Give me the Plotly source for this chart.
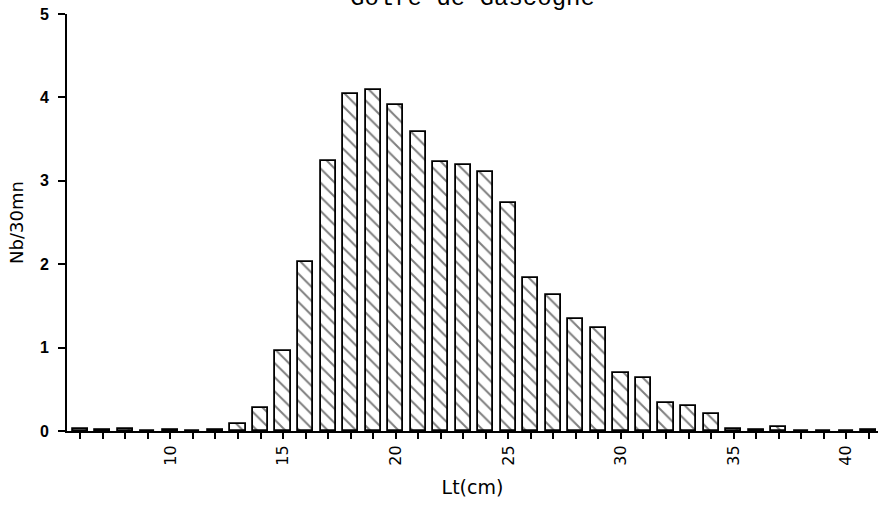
import plotly.graph_objects as go

# Data
lengths = list(range(6, 42))
counts = [0.03, 0.01, 0.02, 0.005, 0.015, 0.0, 0.01, 0.08, 0.28, 0.96,
          2.03, 3.24, 4.04, 4.09, 3.91, 3.58, 3.22, 3.19, 3.11, 2.73,
          1.84, 1.63, 1.34, 1.23, 0.69, 0.64, 0.33, 0.30, 0.20, 0.03,
          0.01, 0.05, 0.0, 0.005, 0.005, 0.01]
x_tick_vals = [10, 15, 20, 25, 30, 35, 40]
y_tick_vals = [0, 1, 2, 3, 4, 5]
title_text = "Golfe de Gascogne"
x_title = "Lt(cm)"
y_title = "Nb/30mn"

fig = go.Figure()
fig.add_trace(go.Bar(
    x=lengths, y=counts, width=0.67,
    marker=dict(color="white",
                line=dict(color="black", width=1.8),
                pattern=dict(shape="\\", fgcolor="black", bgcolor="white",
                             size=10, solidity=0.2)),
    showlegend=False,
))

fig.update_layout(
    width=879, height=509,
    margin=dict(l=67, r=1, t=14, b=78, autoexpand=False),
    paper_bgcolor="white", plot_bgcolor="white",
    font=dict(family="Liberation Sans, Arial, sans-serif", color="black"),
    bargap=0,
    annotations=[dict(text=title_text, xref="paper", yref="paper",
                      x=0.5, y=1.036, xanchor="center", yanchor="middle",
                      showarrow=False,
                      font=dict(family="Courier New, Liberation Mono, monospace",
                                size=24, color="black"))],
)
fig.update_xaxes(
    range=[5.41, 41.41],
    tickmode="array", tickvals=x_tick_vals,
    ticktext=[str(v) for v in x_tick_vals],
    tickangle=-90,
    ticks="outside", ticklen=6, tickwidth=1.5, tickcolor="black",
    minor=dict(dtick=1, tick0=0, ticks="outside", ticklen=6,
               tickwidth=1.5, tickcolor="black"),
    showline=True, linecolor="black", linewidth=1.8,
    showgrid=False, zeroline=False,
    tickfont=dict(size=16, family="DejaVu Sans, sans-serif"),
    title=dict(text=x_title, font=dict(size=19, family="DejaVu Sans, sans-serif"),
               standoff=16),
)
fig.update_yaxes(
    range=[0, 5],
    tickmode="array", tickvals=y_tick_vals,
    ticks="outside", ticklen=7, tickwidth=1.5, tickcolor="black",
    ticklabelstandoff=6,
    showline=True, linecolor="black", linewidth=1.8,
    showgrid=False, zeroline=False,
    tickfont=dict(size=16, weight="bold"),
    title=dict(text=y_title, font=dict(size=18, family="DejaVu Sans, sans-serif"),
               standoff=12),
)

fig.write_html("out.html",
               config={"displayModeBar": False},
               post_script="document.body.style.margin='0';document.body.style.padding='0';")
